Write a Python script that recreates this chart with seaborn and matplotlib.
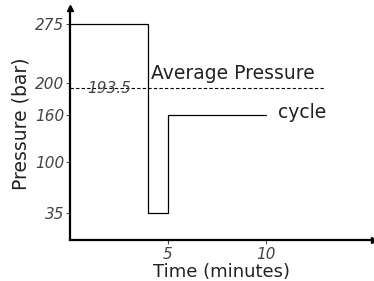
import matplotlib
matplotlib.use("Agg")
import matplotlib.pyplot as plt
import seaborn as sns
import pandas as pd

# cycle data
time_min = [0, 4, 5, 10]
pressure_bar = [275, 35, 160, 160]
avg_pressure = 193.5
avg_end = 13
y_ticks = [35, 100, 160, 200, 275]
x_ticks = [5, 10]

sns.set_style("white")
plt.rcParams['font.family'] = ['DejaVu Sans']

fig = plt.figure(figsize=(3.74, 2.81), dpi=100)
ax = fig.add_axes([0.187, 0.146, 0.813, 0.826])

df = pd.DataFrame({'t': time_min, 'p': pressure_bar})
sns.lineplot(data=df, x='t', y='p', ax=ax, sort=False, drawstyle='steps-post',
             color='black', linewidth=0.9)
ax.plot([0, avg_end], [avg_pressure, avg_pressure], color='black',
        linestyle=(0, (3, 2)), linewidth=0.8)

ax.text(4.15, 212, "Average Pressure", fontsize=13.5, ha='left', va='center', color='#222222')
ax.text(10.6, 163, "cycle", fontsize=13.5, ha='left', va='center', color='#222222')
ax.text(0.9, avg_pressure, "193.5", fontsize=11, ha='left', va='center',
        style='italic', color='#444444')

ax.set_xlim(0, 15.5)
ax.set_ylim(0, 296)
ax.set_xticks(x_ticks)
ax.set_yticks(y_ticks)
ax.set_xticklabels([str(v) for v in x_ticks], style='italic', fontsize=11, color='#444444')
ax.set_yticklabels([str(v) for v in y_ticks], style='italic', fontsize=11, color='#444444')
ax.tick_params(axis='y', length=3, width=0.6, pad=1, direction='out', left=True)
ax.tick_params(axis='x', length=3, width=0.6, pad=2, direction='out', bottom=True)
ax.set_xlabel("Time (minutes)", fontsize=13, labelpad=1, color='#222222')
ax.set_ylabel("Pressure (bar)", fontsize=13.5, labelpad=3, color='#222222')

for s in ['top', 'right']:
    ax.spines[s].set_visible(False)
for s in ['left', 'bottom']:
    ax.spines[s].set_linewidth(1.6)
    ax.spines[s].set_color('black')

# axis arrows
ax.plot(1, 0, ">k", markersize=4, transform=ax.get_yaxis_transform(), clip_on=False)
ax.plot(0, 1, "^k", markersize=4, transform=ax.get_xaxis_transform(), clip_on=False)

fig.savefig("out.png", dpi=100)
